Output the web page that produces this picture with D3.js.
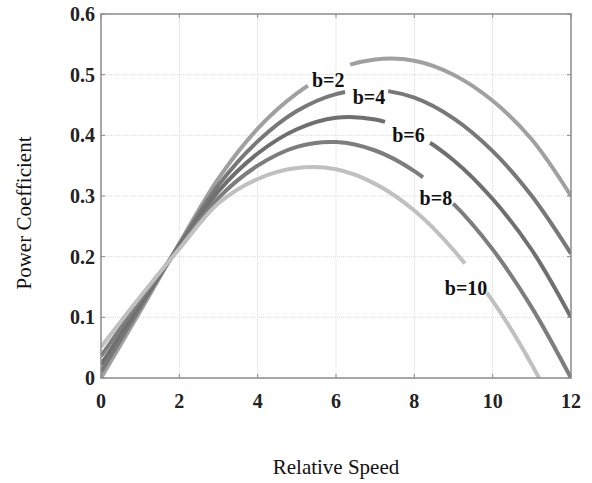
<!DOCTYPE html>
<html>
<head>
<meta charset="utf-8">
<script src="https://cdn.jsdelivr.net/npm/d3@7"></script>
<style>
  body { margin: 0; background: #fff; }
  svg { display: block; }
</style>
</head>
<body>
<div id="chart"></div>
<script>
// Values
const speeds = [0, 1, 2, 3, 4, 5, 6, 7, 8, 9, 10, 11, 12];
const names = ['b=2', 'b=4', 'b=6', 'b=8', 'b=10'];
const cpB2 = [0.000, 0.110, 0.222, 0.329, 0.411, 0.469, 0.508, 0.525, 0.523, 0.500, 0.457, 0.393, 0.300];
const cpB4 = [0.010, 0.116, 0.220, 0.318, 0.390, 0.440, 0.468, 0.475, 0.462, 0.428, 0.374, 0.300, 0.205];
const cpB6 = [0.022, 0.122, 0.217, 0.308, 0.370, 0.410, 0.429, 0.426, 0.403, 0.359, 0.295, 0.211, 0.100];
const cpB8 = [0.036, 0.128, 0.215, 0.297, 0.350, 0.381, 0.389, 0.375, 0.341, 0.287, 0.212, 0.116, 0.000];
const cpB10 = [0.051, 0.134, 0.213, 0.288, 0.328, 0.346, 0.344, 0.320, 0.276, 0.211, 0.127, 0.022, -0.105];
const xTicks = [0, 2, 4, 6, 8, 10, 12];
const yTicks = [0, 0.1, 0.2, 0.3, 0.4, 0.5, 0.6];

// Layout / styling
const width = 592, height = 483;
const margin = { top: 14, right: 21, bottom: 105, left: 101 };
const colors = ['#a0a0a0', '#787878', '#6f6f6f', '#7d7d7d', '#c0c0c0'];
// inline label placement (data units) and the line gap around each label
const labelAt = [[5.80, 0.492], [6.84, 0.464], [7.85, 0.400], [8.55, 0.297], [9.32, 0.149]];
const gapX = [[5.28, 6.36], [6.23, 7.33], [7.25, 8.40], [8.22, 8.99], [9.29, 9.85]];

const series = [cpB2, cpB4, cpB6, cpB8, cpB10];

const svg = d3.select('#chart').append('svg')
    .attr('width', width)
    .attr('height', height);

const x = d3.scaleLinear().domain([0, 12]).range([margin.left, width - margin.right]);
const y = d3.scaleLinear().domain([0, 0.6]).range([height - margin.bottom, margin.top]);

// clip to the axes box
svg.append('clipPath').attr('id', 'plot-clip')
    .append('rect')
    .attr('x', x(0)).attr('y', y(0.6))
    .attr('width', x(12) - x(0)).attr('height', y(0) - y(0.6));

// grid
const grid = svg.append('g').attr('class', 'grid');
grid.selectAll('.vg')
    .data(xTicks.slice(1, -1))
    .enter().append('line')
    .attr('x1', d => x(d)).attr('x2', d => x(d))
    .attr('y1', y(0)).attr('y2', y(0.6))
    .style('stroke', '#d9d9d9').style('stroke-width', 1)
    .style('stroke-dasharray', '1,1');
grid.selectAll('.hg')
    .data(yTicks.slice(1, -1))
    .enter().append('line')
    .attr('x1', x(0)).attr('x2', x(12))
    .attr('y1', d => y(d)).attr('y2', d => y(d))
    .style('stroke', '#d9d9d9').style('stroke-width', 1)
    .style('stroke-dasharray', '1,1');

// curves
const line = d3.line()
    .x((d, i) => x(speeds[i]))
    .y(d => y(d))
    .curve(d3.curveCatmullRom.alpha(0.5));

const curves = svg.append('g').attr('clip-path', 'url(#plot-clip)');

series.forEach((vals, i) => {
    const path = curves.append('path')
        .datum(vals)
        .attr('d', line)
        .style('fill', 'none')
        .style('stroke', colors[i])
        .style('stroke-width', 4)
        .style('stroke-linecap', 'butt');

    // open a gap in the line where the label sits
    const node = path.node();
    const total = node.getTotalLength();
    const lengthAtX = px => {
        let lo = 0, hi = total;
        for (let k = 0; k < 40; k++) {
            const mid = (lo + hi) / 2;
            if (node.getPointAtLength(mid).x < px) lo = mid; else hi = mid;
        }
        return lo;
    };
    const a = lengthAtX(x(gapX[i][0]));
    const b = lengthAtX(x(gapX[i][1]));
    path.style('stroke-dasharray', `${a},${b - a},${total}`);
});

// labels
svg.append('g').selectAll('text')
    .data(names)
    .enter().append('text')
    .attr('x', (d, i) => x(labelAt[i][0]))
    .attr('y', (d, i) => y(labelAt[i][1]))
    .attr('text-anchor', 'middle')
    .attr('dy', '0.35em')
    .style('font-family', '"Liberation Serif", "Times New Roman", serif')
    .style('font-weight', 'bold')
    .style('font-size', '20px')
    .style('fill', '#111')
    .text(d => d);

// axes box
const frame = svg.append('g');
frame.append('rect')
    .attr('x', x(0)).attr('y', y(0.6))
    .attr('width', x(12) - x(0)).attr('height', y(0) - y(0.6))
    .style('fill', 'none')
    .style('stroke', '#8a8a8a')
    .style('stroke-width', 1.5);

// inward ticks on all four sides
const tickLen = 4;
xTicks.forEach(t => {
    frame.append('line').attr('x1', x(t)).attr('x2', x(t))
        .attr('y1', y(0)).attr('y2', y(0) - tickLen)
        .style('stroke', '#8a8a8a').style('stroke-width', 1);
    frame.append('line').attr('x1', x(t)).attr('x2', x(t))
        .attr('y1', y(0.6)).attr('y2', y(0.6) + tickLen)
        .style('stroke', '#8a8a8a').style('stroke-width', 1);
});
yTicks.forEach(t => {
    frame.append('line').attr('x1', x(0)).attr('x2', x(0) + tickLen)
        .attr('y1', y(t)).attr('y2', y(t))
        .style('stroke', '#8a8a8a').style('stroke-width', 1);
    frame.append('line').attr('x1', x(12)).attr('x2', x(12) - tickLen)
        .attr('y1', y(t)).attr('y2', y(t))
        .style('stroke', '#8a8a8a').style('stroke-width', 1);
});

// tick labels
const tickFont = '"Liberation Serif", "Times New Roman", serif';
svg.append('g').selectAll('text')
    .data(xTicks)
    .enter().append('text')
    .attr('x', d => x(d))
    .attr('y', y(0) + 30)
    .attr('text-anchor', 'middle')
    .style('font-family', tickFont)
    .style('font-weight', 'bold')
    .style('font-size', '20px')
    .style('fill', '#222')
    .text(d => d);

svg.append('g').selectAll('text')
    .data(yTicks)
    .enter().append('text')
    .attr('x', x(0) - 6)
    .attr('y', d => y(d))
    .attr('dy', '0.35em')
    .attr('text-anchor', 'end')
    .style('font-family', tickFont)
    .style('font-weight', 'bold')
    .style('font-size', '20px')
    .style('fill', '#222')
    .text(d => d === 0 ? '0' : d.toFixed(1));

// axis titles
svg.append('text')
    .attr('x', (x(0) + x(12)) / 2)
    .attr('y', 474)
    .attr('text-anchor', 'middle')
    .style('font-family', tickFont)
    .style('font-size', '21px')
    .style('fill', '#111')
    .text('Relative Speed');

svg.append('text')
    .attr('transform', `translate(31, ${(y(0) + y(0.6)) / 2 + 17}) rotate(-90)`)
    .attr('text-anchor', 'middle')
    .style('font-family', tickFont)
    .style('font-size', '21px')
    .style('fill', '#111')
    .text('Power Coefficient');
</script>
</body>
</html>
